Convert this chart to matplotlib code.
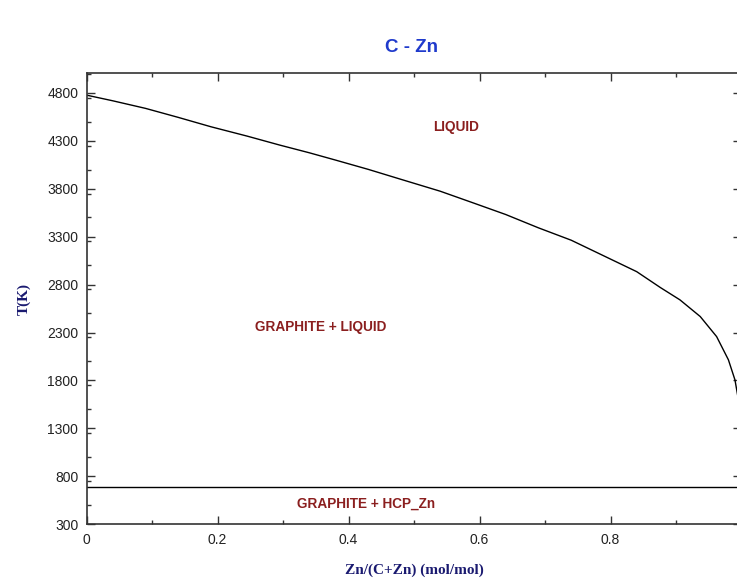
import matplotlib

matplotlib.use("Agg")

import matplotlib.pyplot as plt
from matplotlib.ticker import FixedLocator, MultipleLocator

# liquidus (mole fraction Zn, temperature in K)
liquidus_x = [0.0, 0.04, 0.09, 0.14, 0.19, 0.245, 0.295, 0.34, 0.38, 0.43, 0.48, 0.54,
              0.59, 0.64, 0.69, 0.74, 0.79, 0.84, 0.876, 0.906, 0.937, 0.962, 0.98, 0.99, 0.994]
liquidus_t = [4776, 4717, 4638, 4544, 4446, 4349, 4255, 4175, 4099, 4002, 3898, 3774,
              3653, 3531, 3392, 3263, 3099, 2935, 2770, 2641, 2467, 2258, 2016, 1807, 1651]

eutectic_t = 692.7
x_ticks = [0.0, 0.2, 0.4, 0.6, 0.8]
x_tick_labels = ["0", "0.2", "0.4", "0.6", "0.8"]
y_ticks = [300, 800, 1300, 1800, 2300, 2800, 3300, 3800, 4300, 4800]

region_labels = ["LIQUID", "GRAPHITE + LIQUID", "GRAPHITE + HCP_Zn"]
region_x = [0.564, 0.357, 0.427]
region_t = [4443, 2359, 516]

fig = plt.figure(figsize=(7.37, 5.82), dpi=100)
ax = fig.add_axes([0.1174, 0.0991, 0.8887, 0.776])

ax.plot(liquidus_x, liquidus_t, color="black", linewidth=1.0)
ax.axhline(eutectic_t, color="black", linewidth=1.0)

for label, x, t in zip(region_labels, region_x, region_t):
    ax.text(x, t, label, color="#8b1f1f", fontsize=9.8, fontweight="bold",
            family="Liberation Sans", ha="center", va="center")

ax.set_xlim(0, 1)
ax.set_ylim(300, 5010)
ax.xaxis.set_major_locator(FixedLocator(x_ticks))
ax.set_xticklabels(x_tick_labels)
ax.xaxis.set_minor_locator(MultipleLocator(0.1))
ax.yaxis.set_major_locator(FixedLocator(y_ticks))
ax.yaxis.set_minor_locator(MultipleLocator(250))

ax.tick_params(which="both", direction="in", top=True, right=True, color="#333333",
               labelcolor="#222222", labelsize=10, pad=6)
ax.tick_params(which="major", length=6, width=1)
ax.tick_params(which="minor", length=3, width=1)
for label in ax.get_xticklabels() + ax.get_yticklabels():
    label.set_family("Liberation Sans")
for spine in ax.spines.values():
    spine.set_color("#333333")
    spine.set_linewidth(1.2)

ax.set_xlabel("Zn/(C+Zn) (mol/mol)", family="Liberation Serif", fontweight="bold",
              fontsize=11, color="#1a1a70", labelpad=12)
ax.set_ylabel("T(K)", family="Liberation Serif", fontweight="bold",
              fontsize=11, color="#1a1a70", labelpad=12)

fig.text(0.559, 0.919, "C - Zn", family="Liberation Sans", fontweight="bold",
         fontsize=13.5, color="#1f3acc", ha="center", va="center")

fig.savefig("out.png", dpi=100)
